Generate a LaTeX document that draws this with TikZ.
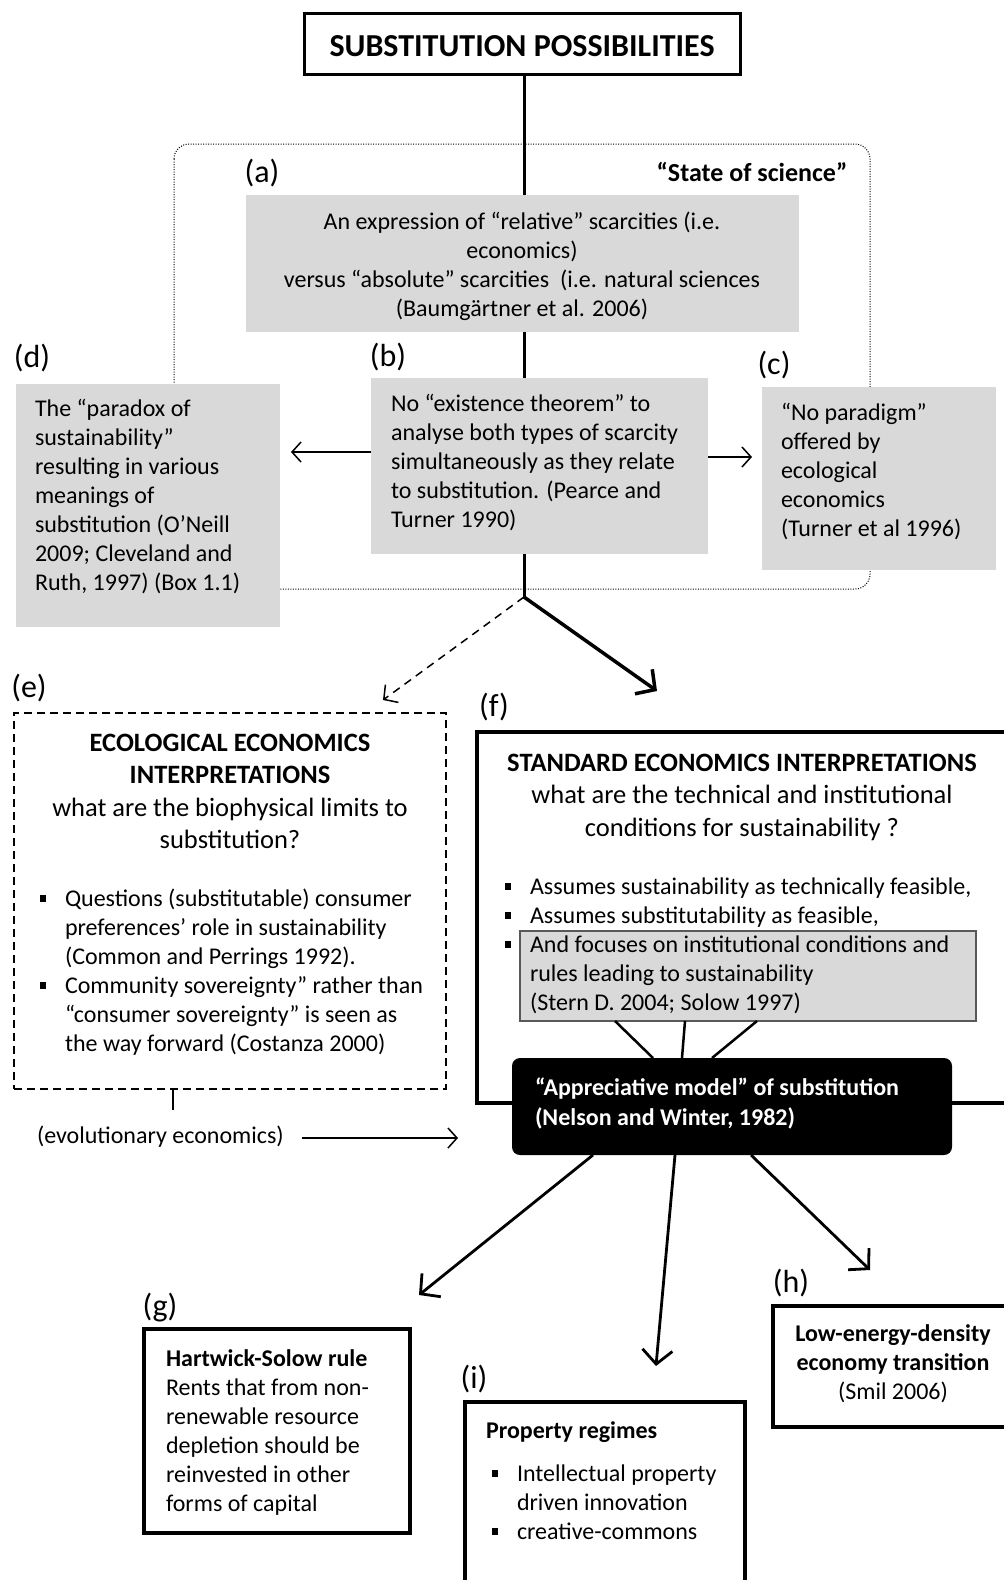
\documentclass[tikz,border=0pt]{standalone}
\usepackage{fontspec}
\setmainfont{Carlito}
\usetikzlibrary{arrows.meta,calc}
\definecolor{boxgray}{HTML}{D9D9D9}
\definecolor{edgegray}{HTML}{595959}
\newcommand\sqbullet{\rule[0.2em]{6pt}{7pt}}
\newcommand\bitem{\makebox[25pt][l]{\sqbullet}}
\newcommand\bcont{\hspace*{25pt}}
\begin{document}
\begin{tikzpicture}[x=1pt,y=-1pt,
  every node/.style={inner sep=0pt, outer sep=0pt},
  body/.style={font=\fontsize{24}{29}\selectfont},
  head/.style={font=\fontsize{26.5}{32.5}\selectfont},
  bodyline/.style={font=\fontsize{24}{29}\selectfont, text height=17pt, text depth=5.5pt},
  tag/.style={font=\fontsize{32}{38}\selectfont, text height=23pt, text depth=8pt},
  graybox/.style={fill=boxgray, draw=none, anchor=north west},
  framebox/.style={draw, line width=3.5pt, anchor=north west},
  spine/.style={line width=3pt},
  thinarrow/.style={line width=1.5pt, -{Straight Barb[length=9pt,width=20pt]}},
  thickarrow/.style={line width=3.5pt, -{Straight Barb[length=14pt,width=30pt]}},
  midarrow/.style={line width=2.8pt, -{Straight Barb[length=14pt,width=30pt]}},
]
\useasboundingbox (0,0) rectangle (1004,1580);
\clip (0,0) rectangle (1004,1580);

% ---- title ----
\node[draw, line width=3pt, anchor=north west, minimum width=436pt, minimum height=61pt] (title) at (304,13) {};
\node[font=\fontsize{32}{38}\selectfont\bfseries, text height=20.6pt, text depth=0pt] (titletext) at (522,46) {SUBSTITUTION POSSIBILITIES};

% ---- "state of science" frame ----
\draw[line width=1pt, dash pattern=on 1pt off 1.5pt, rounded corners=15pt] (174,144) rectangle (870,589);
\node[tag] (la) at (262,175) {(a)};
\node[font=\fontsize{26}{31}\selectfont\bfseries, text height=18.5pt, text depth=6pt] (sos) at (752,175) {“State of science”};

\node[graybox, minimum width=553pt, minimum height=137pt] (a) at (246,195) {};
\node[body, align=center, anchor=north] (atext) at (522,212)
  {An expression of “relative” scarcities (i.e.\\ economics)\\ versus “absolute” scarcities~ (i.e. natural sciences\\ (Baumgärtner et al. 2006)};

\node[tag] (ld) at (32,360) {(d)};
\node[tag] (lb) at (388,359) {(b)};
\node[tag] (lc) at (774,367) {(c)};

\node[graybox, minimum width=264pt, minimum height=243pt] (d) at (16,384) {};
\node[body, align=left, anchor=north west] (dtext) at (35,399)
  {The “paradox of\\ sustainability”\\ resulting in various\\ meanings of\\ substitution (O’Neill\\ 2009; Cleveland and\\ Ruth, 1997) (Box 1.1)};

\node[graybox, minimum width=337pt, minimum height=176pt] (b) at (371,378) {};
\node[body, align=left, anchor=north west] (btext) at (391,394)
  {No “existence theorem” to\\ analyse both types of scarcity\\ simultaneously as they relate\\ to substitution. (Pearce and\\ Turner 1990)};

\node[graybox, minimum width=234pt, minimum height=183pt] (c) at (762,387) {};
\node[body, align=left, anchor=north west] (ctext) at (781,403)
  {“No paradigm”\\ offered by\\ ecological\\ economics\\ (Turner et al 1996)};

% ---- spine and branching ----
\coordinate (J) at (524,597);
\draw[spine] (title.south -| J) -- (a.north -| J);
\draw[spine] (a.south -| J) -- (b.north -| J);
\draw[spine] (b.south -| J) -- (J);

\coordinate (dTip) at (291,452);
\coordinate (cTip) at (752,457);
\draw[thinarrow] (b.west |- dTip) -- (dTip);
\draw[thinarrow] (b.east |- cTip) -- (cTip);

% ---- two interpretations ----
\node[tag] (le) at (29,690) {(e)};
\node[tag] (lf) at (494,709) {(f)};

\coordinate (eTip) at (383,700);
\coordinate (fTip) at (657,691);
\draw[line width=1.5pt, dash pattern=on 8pt off 6pt, -{Straight Barb[length=10pt,width=22pt]}] (J) -- (eTip);
\draw[thickarrow] (J) -- (fTip);

\node[draw, line width=1.6pt, dash pattern=on 8pt off 5pt, anchor=north west, minimum width=432pt, minimum height=376pt] (e) at (14,713) {};
\node[head, align=center, anchor=north] (ehead) at (230,734)
  {\textbf{ECOLOGICAL ECONOMICS}\\ \textbf{INTERPRETATIONS}\\ what are the biophysical limits to\\ substitution?};
\node[body, align=left, anchor=north west] (elist) at (40,889)
  {\bitem Questions (substitutable) consumer\\ \bcont preferences’ role in sustainability\\ \bcont (Common and Perrings 1992).\\
   \bitem Community sovereignty” rather than\\ \bcont “consumer sovereignty” is seen as\\ \bcont the way forward (Costanza 2000)};

\node[draw, line width=4pt, anchor=north west, minimum width=540pt, minimum height=371pt] (f) at (477,732) {};
\node[head, align=center, anchor=north] (fhead) at (742,754)
  {\textbf{STANDARD ECONOMICS INTERPRETATIONS}\\ what are the technical and institutional\\ conditions for sustainability ?};
\node[fill=boxgray, draw=edgegray, line width=1.3pt, anchor=north west, minimum width=456pt, minimum height=90pt] (fbox) at (520,931) {};
\node[body, align=left, anchor=north west] (flist) at (505,878)
  {\bitem Assumes sustainability as technically feasible,\\ \bitem Assumes substitutability as feasible,\\
   \bitem And focuses on institutional conditions and\\ \bcont rules leading to sustainability\\ \bcont (Stern D. 2004; Solow 1997)};

% ---- appreciative model ----
\node[fill=black, rounded corners=8pt, anchor=north west, minimum width=440pt, minimum height=97pt] (m) at (512,1058) {};
\node[body, text=white, font=\fontsize{24}{30}\selectfont\bfseries, align=left, anchor=north west] (mtext) at (535,1078)
  {“Appreciative model” of substitution\\ (Nelson and Winter, 1982)};

\draw[line width=2.5pt] ($(fbox.south west)+(95,0)$) -- ($(m.north west)+(141,0)$);
\draw[line width=2.5pt] ($(fbox.south west)+(165,0)$) -- ($(m.north west)+(170,0)$);
\draw[line width=2.5pt] ($(fbox.south west)+(237,0)$) -- ($(m.north west)+(200,0)$);

\coordinate (eTick) at (173,1110);
\draw[line width=1.5pt] (eTick |- e.south) -- (eTick);
\node[bodyline, anchor=west] (evo) at (37,1138) {(evolutionary economics)};
\coordinate (evoTip) at (458,1138);
\draw[thinarrow] ([xshift=18pt]evo.east) -- (evoTip);

% ---- outcomes ----
\node[tag] (lg) at (160,1309) {(g)};
\node[tag] (li) at (474,1381) {(i)};
\node[tag] (lh) at (791,1285) {(h)};

\coordinate (gTip) at (419,1295);
\coordinate (iTip) at (656,1366);
\coordinate (hTip) at (870,1270);
\draw[midarrow] ($(m.south west)+(81,0)$) -- (gTip);
\draw[midarrow] ($(m.south west)+(163,0)$) -- (iTip);
\draw[midarrow] ($(m.south west)+(239,0)$) -- (hTip);

\node[framebox, minimum width=266pt, minimum height=204pt] (g) at (144,1329) {};
\node[body, align=left, anchor=north west] (gtext) at (166,1350)
  {\textbf{Hartwick-Solow rule}\\ Rents that from non-\\ renewable resource\\ depletion should be\\ reinvested in other\\ forms of capital};

\node[framebox, minimum width=280pt, minimum height=220pt] (i) at (465,1402) {};
\node[body, align=left, anchor=north west] (ihead) at (486,1422) {\textbf{Property regimes}};
\node[body, align=left, anchor=north west] (ilist) at (492,1465)
  {\bitem Intellectual property\\ \bcont driven innovation\\ \bitem creative-commons};

\node[framebox, minimum width=250pt, minimum height=121pt] (h) at (773,1306) {};
\node[body, align=center, anchor=north] (htext) at (893,1325)
  {\textbf{Low-energy-density}\\ \textbf{economy transition}\\ (Smil 2006)};

\end{tikzpicture}
\end{document}
